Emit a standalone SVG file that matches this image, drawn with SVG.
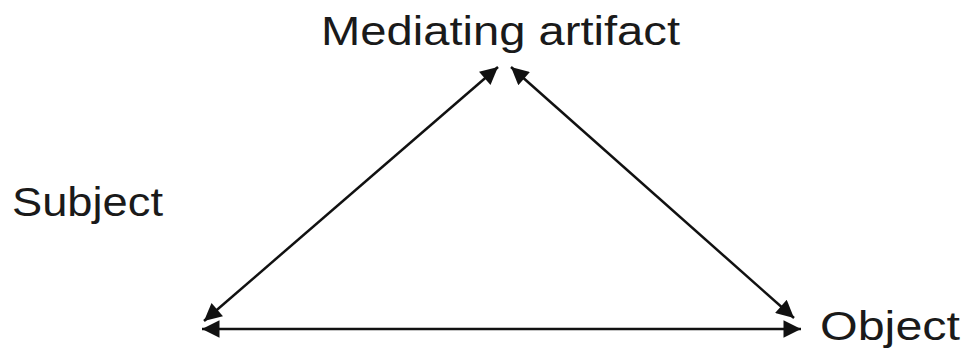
<svg xmlns="http://www.w3.org/2000/svg" width="962" height="349" viewBox="0 0 962 349">
<style>
.lbl{font-family:"Liberation Sans",Arial,sans-serif;font-size:40px;fill:#1a1a1a}
.edge{stroke:#111;stroke-width:2.5;fill:none}
</style>
<defs>
<marker id="ah" viewBox="0 0 10 10" refX="10" refY="5" markerWidth="8" markerHeight="7" markerUnits="strokeWidth" orient="auto-start-reverse">
<path d="M0,0 L10,5 L0,10 z" fill="#111"/>
</marker>
</defs>
<rect width="962" height="349" fill="#fff"/>
<g id="connectors">
<line class="edge" x1="204" y1="321" x2="498" y2="67" marker-start="url(#ah)" marker-end="url(#ah)"/>
<line class="edge" x1="511" y1="67" x2="794" y2="318" marker-start="url(#ah)" marker-end="url(#ah)"/>
<line class="edge" x1="202" y1="329" x2="801" y2="329" marker-start="url(#ah)" marker-end="url(#ah)"/>
</g>
<g id="mediating"><text class="lbl" x="321" y="45" font-size="39" textLength="359" lengthAdjust="spacingAndGlyphs">Mediating artifact</text></g>
<g id="subject"><text class="lbl" x="12" y="216" font-size="45" textLength="151" lengthAdjust="spacingAndGlyphs">Subject</text></g>
<g id="object"><text class="lbl" x="820" y="340" font-size="44" textLength="140" lengthAdjust="spacingAndGlyphs">Object</text></g>
</svg>
